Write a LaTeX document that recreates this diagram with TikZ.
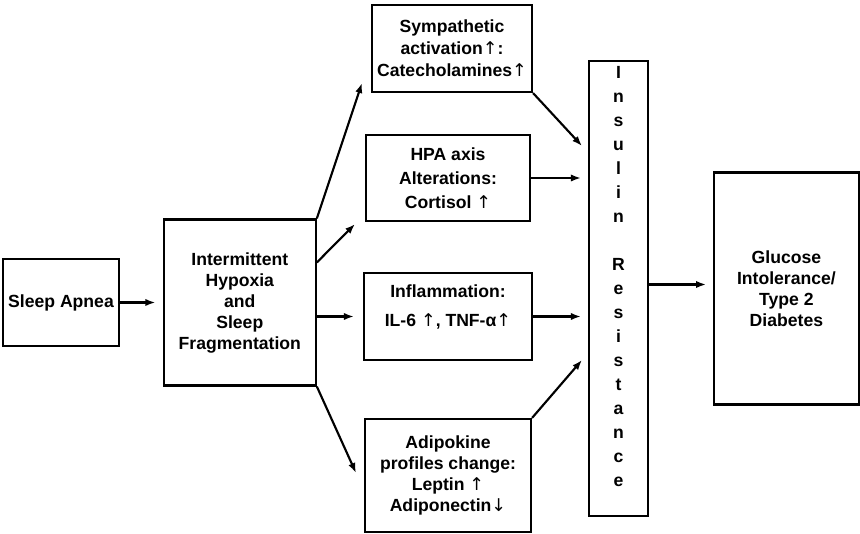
\documentclass[tikz,border=0pt]{standalone}
\usepackage{fontspec}
\setmainfont{Liberation Sans}
\newfontfamily\arrowfont{DejaVu Sans}
\newcommand{\upar}{{\arrowfont\mdseries ↑}}
\newcommand{\dnar}{{\arrowfont\mdseries ↓}}
\usetikzlibrary{arrows.meta, positioning}

\begin{document}
\begin{tikzpicture}[
        x=0.75pt, y=-0.75pt,
        box/.style={rectangle, draw=black, line width=1.6pt,
                    align=center, inner sep=3pt,
                    font=\fontsize{13.2}{15.75}\selectfont\bfseries},
        arrow/.style={-{Latex[length=7.5pt, width=5.5pt]}, line width=1.6pt},
    ]
    \useasboundingbox (0,0) rectangle (860,534);

    % links: Schlafapnoe und Hypoxie
    \node[box, minimum width=87pt, minimum height=65.25pt] (apnea) at (61,302.5) {Sleep Apnea};
    \node[box, minimum width=114pt, minimum height=124.5pt, right=32pt of apnea] (hypox)
        {Intermittent\\Hypoxia\\and\\Sleep\\Fragmentation};

    % mittlere Spalte: vier Mechanismen
    \node[box, minimum width=120pt, minimum height=65.25pt,
          font=\fontsize{13.2}{16.5}\selectfont\bfseries] (symp) at (452,48.5)
        {Sympathetic\\activation\upar:\\Catecholamines\upar};
    \node[box, minimum width=123pt, minimum height=64.5pt,
          font=\fontsize{13.2}{18}\selectfont\bfseries] (hpa) at (448,178)
        {HPA axis\\Alterations:\\Cortisol \upar};
    \node[box, minimum width=126pt, minimum height=65.25pt] (infl) at (448,316.5)
        {Inflammation:\\[6pt]IL-6 \upar, TNF-α\upar\\\mbox{}};
    \node[box, minimum width=124.5pt, minimum height=84.75pt] (adipo) at (448,475.5)
        {Adipokine\\profiles change:\\Leptin \upar\\Adiponectin\dnar};

    % rechts: Insulinresistenz und Diabetes
    \node[box, minimum width=44.25pt, minimum height=341.25pt,
          font=\fontsize{13.2}{18}\selectfont\bfseries] (insulin) at (618.5,288.5)
        {I\\n\\s\\u\\l\\i\\n\\[18pt]R\\e\\s\\i\\s\\t\\a\\n\\c\\e\\\mbox{}};
    \node[box, minimum width=108.4pt, minimum height=174pt, right=48pt of insulin] (glucose)
        {Glucose\\Intolerance/\\Type 2\\Diabetes};

    % Pfeilspitzen ohne Knoten
    \coordinate (tipsymp) at (362,83);
    \coordinate (tiphpa) at (355,224);
    \coordinate (tipadipo) at (356,473);
    \coordinate (insymp) at (582,146);
    \coordinate (inadipo) at (582,360);

    % Verbindungen
    \draw[arrow, shorten >=5.5pt] (apnea.east) -- (apnea.east -| hypox.west);
    \draw[arrow] (hypox.north east) -- (tipsymp);
    \draw[arrow] ([yshift=-33pt]hypox.north east) -- (tiphpa);
    \draw[arrow, shorten >=6.75pt] (hypox.east |- infl.west) -- (infl.west);
    \draw[arrow] (hypox.south east) -- (tipadipo);

    \draw[arrow] (symp.south east) -- (insymp);
    \draw[arrow, shorten >=5.25pt] (hpa.east) -- (hpa.east -| insulin.west);
    \draw[arrow, shorten >=5.25pt] (infl.east) -- (infl.east -| insulin.west);
    \draw[arrow] (adipo.north east) -- (inadipo);

    \draw[arrow, shorten >=5.25pt] ([yshift=3pt]insulin.east |- glucose.west) -- ([yshift=3pt]glucose.west);
\end{tikzpicture}
\end{document}
